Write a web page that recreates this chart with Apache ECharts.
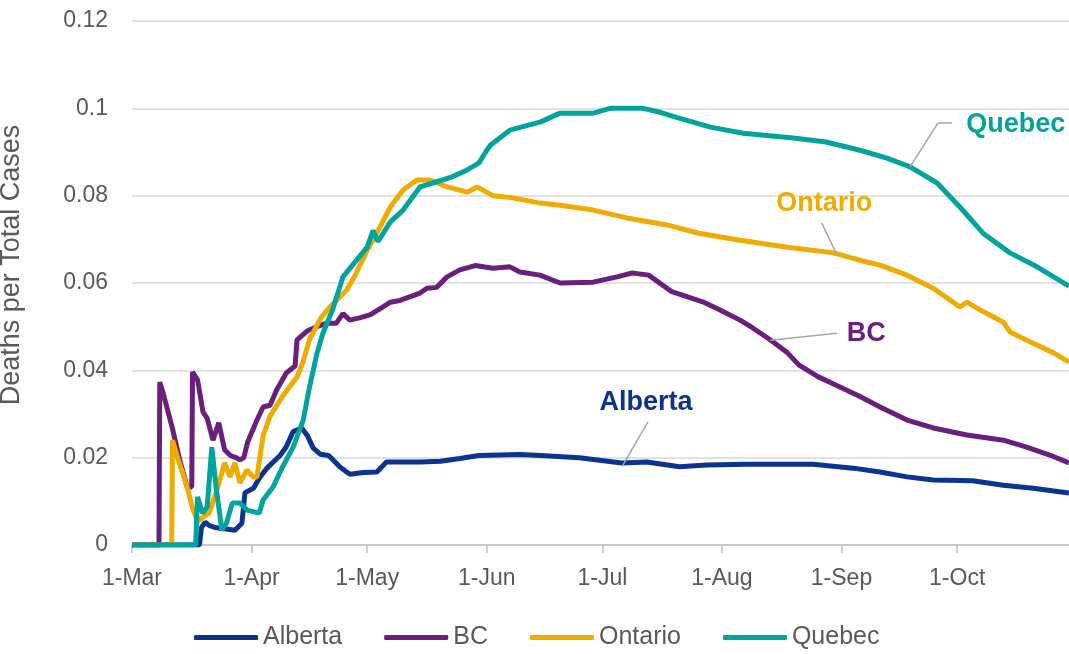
<!DOCTYPE html>
<html>
<head>
<meta charset="utf-8">
<script src="https://cdn.jsdelivr.net/npm/echarts@6/dist/echarts.min.js"></script>
<style>
  html, body { margin: 0; padding: 0; background: #fff; }
  #main { width: 1069px; height: 654px; }
</style>
</head>
<body>
<div id="main"></div>
<script>
// x = days since 1-Mar (2020), y = deaths per total cases
const monthDays = [0, 31, 61, 92, 122, 153, 184, 214];
const monthLabels = ['1-Mar', '1-Apr', '1-May', '1-Jun', '1-Jul', '1-Aug', '1-Sep', '1-Oct'];
const lastDay = 243;

const alberta = [
  [0, 0], [17.5, 0], [18, 0.004], [19, 0.0052], [20, 0.0045], [21.5, 0.004], [24, 0.0037],
  [26.7, 0.0034], [28.5, 0.005], [29.3, 0.012], [31.5, 0.013], [33, 0.0153], [35, 0.0176],
  [38.4, 0.0205], [40, 0.0225], [41.8, 0.026], [44, 0.0268], [45.5, 0.025], [47, 0.0222],
  [48.8, 0.0208], [51, 0.0205], [54, 0.0178], [56.5, 0.0162], [60, 0.0166], [63.5, 0.0167],
  [66, 0.019], [69.5, 0.019], [75, 0.019], [80, 0.0192], [85, 0.0198], [90, 0.0205],
  [100.6, 0.0207], [106, 0.0205], [116, 0.020], [127, 0.0188], [133.5, 0.019], [142, 0.0179],
  [149, 0.0183], [159.5, 0.0185], [176.6, 0.0185], [187, 0.0176], [194, 0.0167], [201, 0.0156],
  [207.8, 0.0149], [218, 0.0147], [226, 0.0137], [233.7, 0.013], [243, 0.0119]
];

const bc = [
  [0, 0], [7, 0], [7.2, 0.0373], [8, 0.035], [10.4, 0.027], [12.5, 0.019], [14.3, 0.0133],
  [15.5, 0.0133], [15.7, 0.0396], [17, 0.0378], [18.4, 0.0305], [19.5, 0.029], [21, 0.024],
  [22.5, 0.028], [24, 0.0218], [25.5, 0.0205], [27, 0.0200], [28, 0.0195], [29, 0.020],
  [30, 0.0236], [32.4, 0.0286], [34, 0.0316], [35.8, 0.032], [37.5, 0.0355], [40, 0.0394],
  [42.3, 0.041], [42.8, 0.047], [45.4, 0.049], [48, 0.050], [50.5, 0.0508], [53, 0.0508],
  [54.7, 0.053], [56.5, 0.0515], [59, 0.052], [61.7, 0.0527], [65, 0.0545], [67, 0.0556],
  [69.5, 0.056], [74.7, 0.0577], [76.5, 0.0588], [79, 0.059], [81.7, 0.0614], [85, 0.063],
  [89, 0.064], [93.6, 0.0634], [98, 0.0637], [100.6, 0.0625], [105.8, 0.0618], [111, 0.060],
  [119.6, 0.0602], [125.8, 0.0614], [129.7, 0.0623], [134, 0.0618], [140, 0.058], [148, 0.0557],
  [152.5, 0.0538], [157.7, 0.0515], [161, 0.0497], [165.5, 0.047], [170, 0.044], [173, 0.0412],
  [178, 0.0385], [183.6, 0.0362], [188.8, 0.034], [194, 0.0316], [201, 0.0286], [207.8, 0.0268],
  [216.5, 0.0252], [226, 0.024], [232, 0.0224], [238, 0.0206], [243, 0.0188]
];

const ontario = [
  [0, 0], [10.3, 0], [10.5, 0.024], [12, 0.0195], [14.3, 0.0133], [15.6, 0.0087], [17, 0.0053],
  [18.4, 0.0064], [20, 0.0073], [22, 0.0126], [23.3, 0.0165], [24, 0.0188], [25.4, 0.0156],
  [26.7, 0.0188], [28, 0.0142], [29.8, 0.0172], [31.4, 0.0156], [32.4, 0.0156], [34, 0.025],
  [35.8, 0.0295], [39, 0.034], [42.8, 0.0385], [44.4, 0.042], [46, 0.047], [49, 0.052],
  [51.3, 0.0545], [55.7, 0.0584], [58, 0.062], [61, 0.0675], [64.3, 0.0728], [67, 0.0774],
  [70.3, 0.0813], [73.9, 0.0836], [77.3, 0.0836], [81.7, 0.082], [87, 0.0808], [89.5, 0.082],
  [93.6, 0.080], [98.8, 0.0795], [105.8, 0.0783], [111, 0.0778], [119.6, 0.0767], [128.4, 0.0749],
  [138.7, 0.0733], [147, 0.0714], [157.7, 0.0698], [170, 0.0682], [182, 0.0669], [190.6, 0.0648],
  [194, 0.0641], [201, 0.0618], [207.8, 0.0588], [214.7, 0.0545], [216.5, 0.0556], [220, 0.0538],
  [226, 0.051], [227.7, 0.0488], [233, 0.0465], [239, 0.044], [243, 0.0419]
];

const quebec = [
  [0, 0], [16.5, 0], [17, 0.011], [18.3, 0.0073], [19.5, 0.0087], [20.7, 0.0224], [21.8, 0.0133],
  [23.3, 0.0034], [24.5, 0.005], [26, 0.0096], [28, 0.0096], [29.8, 0.008], [33, 0.0073],
  [34, 0.0103], [36.6, 0.0133], [39, 0.0178], [41.8, 0.0224], [44.4, 0.0286], [46, 0.036],
  [48, 0.044], [49.5, 0.0485], [52, 0.0538], [54.7, 0.0614], [58.3, 0.0653], [61, 0.0682],
  [62.5, 0.072], [63.8, 0.0695], [67, 0.074], [70.3, 0.0767], [74.7, 0.082], [78, 0.0829],
  [83, 0.0843], [86.9, 0.0859], [90, 0.0875], [92, 0.0904], [93, 0.0916], [98, 0.095],
  [106, 0.0969], [111, 0.0989], [119.6, 0.0989], [124, 0.100], [132.5, 0.100], [137, 0.0991],
  [141, 0.098], [150, 0.0957], [158.5, 0.0943], [171.5, 0.0932], [180, 0.0923], [188.8, 0.0904],
  [195.8, 0.0886], [201.8, 0.0866], [208.8, 0.0829], [214.7, 0.0774], [220.7, 0.0714],
  [227.7, 0.0669], [234.7, 0.0637], [243, 0.0593]
];

// label anchor [day, value] and leader line points
const labelPos = {
  Alberta: [133.3, 0.0327],
  BC: [190.4, 0.0485],
  Ontario: [179.5, 0.0783],
  Quebec: [229.2, 0.0962]
};
const leaders = {
  Alberta: [[133.8, 0.0282], [127.3, 0.0183]],
  BC: [[182.8, 0.0485], [165.5, 0.0469]],
  Ontario: [[178.9, 0.0737], [182.8, 0.0664]],
  Quebec: [[201.8, 0.0866], [209.0, 0.0966], [212.7, 0.0966]]
};

const colors = { Alberta: '#0B3391', BC: '#6B1F7C', Ontario: '#EFAB00', Quebec: '#00A39D' };
const font = '"Liberation Sans", Arial, sans-serif';

function makeSeries(name, data) {
  const pts = leaders[name];
  const segs = [];
  for (let i = 0; i < pts.length - 1; i++) {
    segs.push([{ coord: pts[i] }, { coord: pts[i + 1] }]);
  }
  return {
    name: name,
    type: 'line',
    data: data,
    showSymbol: false,
    symbol: 'none',
    color: colors[name],
    lineStyle: { width: 5, color: colors[name] },
    emphasis: { disabled: true },
    markLine: {
      silent: true,
      symbol: ['none', 'none'],
      lineStyle: { color: '#a6a6a6', width: 1.5, type: 'solid' },
      label: { show: false },
      data: segs
    },
    markPoint: {
      silent: true,
      symbol: 'circle',
      symbolSize: 0,
      label: {
        show: true,
        position: 'inside',
        formatter: name,
        color: colors[name],
        fontFamily: font,
        fontWeight: 'bold',
        fontSize: 27
      },
      data: [{ coord: labelPos[name] }]
    }
  };
}

const names = ['Alberta', 'BC', 'Ontario', 'Quebec'];
const chart = echarts.init(document.getElementById('main'));
chart.setOption({
  animation: false,
  textStyle: { fontFamily: font },
  grid: { left: 132, right: 0, top: 21, bottom: 109, containLabel: false, outerBoundsMode: 'none' },
  legend: {
    top: 625,
    left: 194,
    padding: 0,
    icon: 'roundRect',
    itemWidth: 64,
    itemHeight: 5,
    itemGap: 42,
    textStyle: { fontSize: 25, color: '#595959', fontFamily: font },
    data: names
  },
  xAxis: {
    type: 'value',
    min: 0,
    max: lastDay,
    axisLine: { show: true, lineStyle: { color: '#bfbfbf', width: 1.5 } },
    axisTick: { show: true, customValues: monthDays, length: 8, lineStyle: { color: '#bfbfbf', width: 1.5 } },
    axisLabel: {
      customValues: monthDays,
      margin: 22,
      fontSize: 23,
      color: '#595959',
      formatter: function (v) {
        const i = monthDays.indexOf(Math.round(v));
        return i >= 0 ? monthLabels[i] : '';
      }
    },
    splitLine: { show: false }
  },
  yAxis: {
    type: 'value',
    min: 0,
    max: 0.12,
    interval: 0.02,
    name: 'Deaths per Total Cases',
    nameLocation: 'middle',
    nameGap: 107,
    nameTextStyle: { fontSize: 27, color: '#595959', padding: [0, 0, 0, 36] },
    axisLine: { show: false },
    axisTick: { show: false },
    axisLabel: { fontSize: 23, color: '#595959', margin: 24 },
    splitLine: { lineStyle: { color: '#d9d9d9', width: 1.5 } }
  },
  series: names.map(function (n, i) {
    return makeSeries(n, [alberta, bc, ontario, quebec][i]);
  })
});
</script>
</body>
</html>
